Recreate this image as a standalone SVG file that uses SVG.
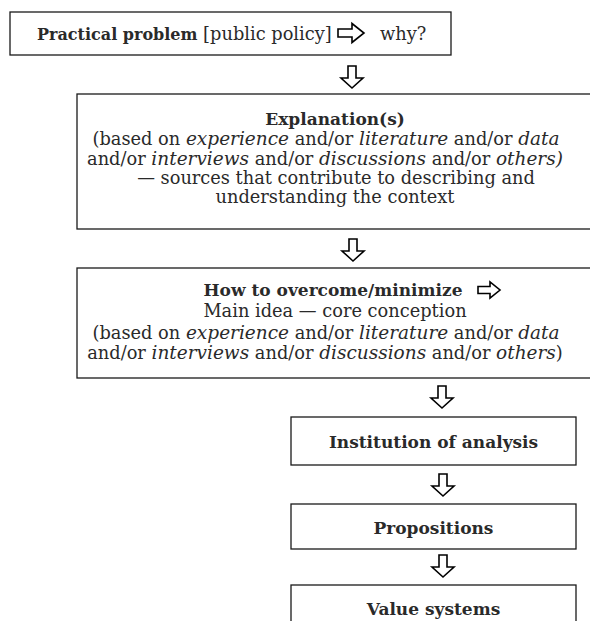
<svg xmlns="http://www.w3.org/2000/svg" xmlns:xlink="http://www.w3.org/1999/xlink" width="590" height="621" viewBox="0 0 590 621">
<style>
.box{fill:#fff;stroke:#1a1a1a;stroke-width:1.3}
.arr{fill:#fff;stroke:#000;stroke-width:1.6;stroke-linejoin:miter}
text{font-family:"DejaVu Serif","Liberation Serif",serif;font-size:17.8px;fill:#2a2a2a}
.c{text-anchor:middle}
.b{font-weight:bold;font-size:17px}
.b16{font-weight:bold;font-size:16px}
.i{font-style:italic;font-size:18.5px}
</style>
<defs>
<path id="down" class="arr" d="M-4,0 L4,0 L4,12 L11,12 L0,22 L-11,12 L-4,12 Z"/>
<path id="right" class="arr" d="M0,-3.5 L12,-3.5 L12,-8 L22,0 L12,8 L12,3.5 L0,3.5 Z"/>
<path id="right2" class="arr" d="M0,-4 L14,-4 L14,-9.5 L26,0 L14,9.5 L14,4 L0,4 Z"/>
</defs>
<g id="node-problem">
<rect class="box" x="10" y="12" width="441" height="43"/>
<text x="37" y="40"><tspan class="b16">Practical problem</tspan> [public policy]</text>
<use xlink:href="#right2" x="338" y="33"/>
<text x="380" y="40">why?</text>
</g>
<g id="node-explanation">
<rect class="box" x="77" y="94" width="540" height="135"/>
<text class="c b" x="335" y="125">Explanation(s)</text>
<text class="c" x="326" y="145">(based on <tspan class="i">experience</tspan> and/or <tspan class="i">literature</tspan> and/or <tspan class="i">data</tspan></text>
<text class="c" x="325" y="164.5">and/or <tspan class="i">interviews</tspan> and/or <tspan class="i">discussions</tspan> and/or <tspan class="i">others)</tspan></text>
<text class="c" x="336" y="184">— sources that contribute to describing and</text>
<text class="c" x="335" y="203">understanding the context</text>
</g>
<g id="node-overcome">
<rect class="box" x="77" y="268" width="540" height="110"/>
<text class="c b" x="333" y="296">How to overcome/minimize</text>
<use xlink:href="#right" x="478" y="290"/>
<text class="c" x="335" y="317">Main idea — core conception</text>
<text class="c" x="326" y="339">(based on <tspan class="i">experience</tspan> and/or <tspan class="i">literature</tspan> and/or <tspan class="i">data</tspan></text>
<text class="c" x="325" y="359">and/or <tspan class="i">interviews</tspan> and/or <tspan class="i">discussions</tspan> and/or <tspan class="i">others</tspan>)</text>
</g>
<g id="node-institution">
<rect class="box" x="291" y="417" width="285" height="48"/>
<text class="c b" x="433.5" y="448">Institution of analysis</text>
</g>
<g id="node-propositions">
<rect class="box" x="291" y="504" width="285" height="45"/>
<text class="c b" x="433.5" y="534">Propositions</text>
</g>
<g id="node-values">
<rect class="box" x="291" y="585" width="285" height="50"/>
<text class="c b" x="433.5" y="615">Value systems</text>
</g>
<g id="connectors">
<use xlink:href="#down" x="352" y="66"/>
<use xlink:href="#down" x="353" y="239"/>
<use xlink:href="#down" x="442" y="386"/>
<use xlink:href="#down" x="443" y="474"/>
<use xlink:href="#down" x="443" y="555"/>
</g>
</svg>
